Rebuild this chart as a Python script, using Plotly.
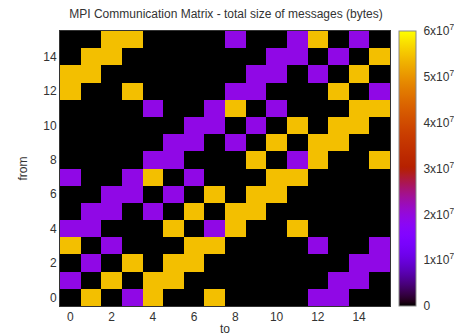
import numpy as np
import plotly.graph_objects as go

# Message volume between ranks (bytes). Rows = sender ("from"), columns = receiver ("to").
Y = 5.45e7   # large exchanges
P = 1.92e7   # medium exchanges
O = 0.0

ranks = list(range(16))

row_0  = [O, Y, O, P, Y, O, O, Y, O, O, O, O, P, P, O, O]
row_1  = [P, O, Y, O, Y, Y, O, O, O, O, O, O, O, P, P, O]
row_2  = [O, P, O, Y, O, Y, Y, O, O, O, O, O, O, O, P, P]
row_3  = [Y, O, P, O, O, O, Y, Y, O, O, O, O, P, O, O, P]
row_4  = [P, P, O, O, O, Y, O, P, Y, O, O, Y, O, O, O, O]
row_5  = [O, P, P, O, P, O, Y, O, Y, Y, O, O, O, O, O, O]
row_6  = [O, O, P, P, O, P, O, Y, O, Y, Y, O, O, O, O, O]
row_7  = [P, O, O, P, Y, O, P, O, O, O, Y, Y, O, O, O, O]
row_8  = [O, O, O, O, P, P, O, O, O, Y, O, P, Y, O, O, Y]
row_9  = [O, O, O, O, O, P, P, O, P, O, Y, O, Y, Y, O, O]
row_10 = [O, O, O, O, O, O, P, P, O, P, O, Y, O, Y, Y, O]
row_11 = [O, O, O, O, P, O, O, P, Y, O, P, O, O, O, Y, Y]
row_12 = [Y, O, O, Y, O, O, O, O, P, P, O, O, O, Y, O, P]
row_13 = [Y, Y, O, O, O, O, O, O, O, P, P, O, P, O, Y, O]
row_14 = [O, Y, Y, O, O, O, O, O, O, O, P, P, O, P, O, Y]
row_15 = [O, O, Y, Y, O, O, O, O, P, O, O, P, Y, O, P, O]

matrix = [row_0, row_1, row_2, row_3, row_4, row_5, row_6, row_7,
          row_8, row_9, row_10, row_11, row_12, row_13, row_14, row_15]

cbar_vals = [0, 1e7, 2e7, 3e7, 4e7, 5e7, 6e7]
cbar_text = ["0", "1x10<sup>7</sup>", "2x10<sup>7</sup>", "3x10<sup>7</sup>",
             "4x10<sup>7</sup>", "5x10<sup>7</sup>", "6x10<sup>7</sup>"]
axis_ticks = [0, 2, 4, 6, 8, 10, 12, 14]


# gnuplot-style default palette (rgbformulae 7,5,15)
def palette(n=64):
    out = []
    for i in range(n):
        t = i / (n - 1)
        r = np.sqrt(t)
        g = t ** 3
        b = max(0.0, np.sin(2 * np.pi * t))
        out.append([t, f"rgb({int(round(r*255))},{int(round(g*255))},{int(round(b*255))})"])
    return out


FAMILY = "Liberation Sans, Arial, sans-serif"
TXT = "#333333"
font = dict(family=FAMILY, size=12, color=TXT)

fig = go.Figure(go.Heatmap(
    z=matrix, x=ranks, y=ranks,
    zmin=0, zmax=6e7,
    colorscale=palette(),
    xgap=0, ygap=0,
    colorbar=dict(
        x=(399 - 60) / 330, xanchor="left", xref="paper",
        y=0.5, yanchor="middle", len=1.0, lenmode="fraction",
        thickness=17, thicknessmode="pixels",
        outlinecolor="#888888", outlinewidth=1,
        tickvals=cbar_vals, ticktext=cbar_text,
        ticks="outside", ticklen=5, tickcolor="rgba(0,0,0,0)",
        tickfont=dict(family=FAMILY, size=12, color=TXT),
        xpad=0, ypad=0,
    ),
))

fig.update_layout(
    width=454, height=336,
    margin=dict(l=60, r=64, t=31, b=30, autoexpand=False),
    paper_bgcolor="white", plot_bgcolor="black",
    font=font,
    title=dict(text="MPI Communication Matrix - total size of messages (bytes)",
               x=226/454, xanchor="center", y=1 - 14/336, yanchor="middle",
               font=dict(family=FAMILY, size=12, color=TXT)),
    annotations=[
        dict(text="to", xref="paper", yref="paper", x=0.5, y=-23/275,
             xanchor="center", yanchor="middle", showarrow=False,
             font=dict(family=FAMILY, size=12, color=TXT)),
        dict(text="from", xref="paper", yref="paper", x=-38/330, y=0.5,
             xanchor="center", yanchor="middle", textangle=-90, showarrow=False,
             font=dict(family=FAMILY, size=12, color=TXT)),
    ],
)
fig.update_xaxes(range=[-0.5, 15.5], tickvals=axis_ticks, showgrid=False, zeroline=False,
                 ticks="", ticklen=0, automargin=False,
                 showline=True, linecolor="#333333", mirror=True)
fig.update_yaxes(range=[-0.5, 15.5], tickvals=axis_ticks, showgrid=False, zeroline=False,
                 ticks="", ticklen=0, automargin=False,
                 showline=True, linecolor="#333333", mirror=True)

fig.write_html("out.html")
